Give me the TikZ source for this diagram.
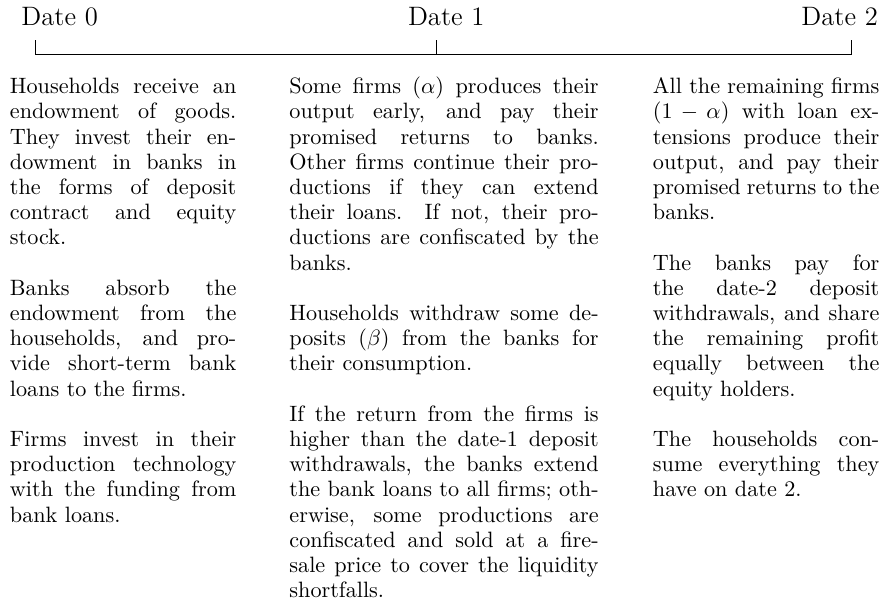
\documentclass[tikz,border=0pt]{standalone}
\begin{document}
\begin{tikzpicture}[x=0.45045pt,y=-0.45045pt,
  datelabel/.style={anchor=base west,inner sep=0pt,font=\large},
  colbox/.style={anchor=north west,inner sep=0pt,align=justify,
    font=\fontsize{10}{11.35}\selectfont},
  timeline/.style={line width=0.4pt,black}]
\useasboundingbox (0,0) rectangle (882,606);
% date labels
\node[datelabel] (d0) at (21,25) {Date 0};
\node[datelabel] (d1) at (407.6,25) {Date 1};
\node[datelabel] (d2) at (801,25) {Date 2};
% timeline
\coordinate (t0) at (35.7,54);
\coordinate (t1) at (436.7,54);
\coordinate (t2) at (851.7,54);
\coordinate (t0u) at (35.7,40);
\coordinate (t1u) at (436.7,40);
\coordinate (t2u) at (851.7,40);
\draw[timeline] (t0u) -- (t0) -- (t2) -- (t2u);
\draw[timeline] (t1u) -- (t1);
% columns
\newcommand{\pgap}{\par\vspace{\baselineskip}}
\node[colbox,text width=102pt] (c0) at (9.5,75.66) {\strut
Households receive an\linebreak
endowment of goods.\linebreak
They invest their en-\linebreak
dowment in banks in\linebreak
the forms of deposit\linebreak
contract and equity\linebreak
stock.\pgap
Banks absorb the\linebreak
endowment from the\linebreak
households, and pro-\linebreak
vide short-term bank\linebreak
loans to the firms.\pgap
Firms invest in their\linebreak
production technology\linebreak
with the funding from\linebreak
bank loans.};
\node[colbox,text width=139.3pt] (c1) at (289,75.66) {\strut
Some firms ($\alpha$) produces their\linebreak
output early, and pay their\linebreak
promised returns to banks.\linebreak
Other firms continue their pro-\linebreak
ductions if they can extend\linebreak
their loans. If not, their pro-\linebreak
ductions are confiscated by the\linebreak
banks.\pgap
Households withdraw some de-\linebreak
posits ($\beta$) from the banks for\linebreak
their consumption.\pgap
If the return from the firms is\linebreak
higher than the date-1 deposit\linebreak
withdrawals, the banks extend\linebreak
the bank loans to all firms; oth-\linebreak
erwise, some productions are\linebreak
confiscated and sold at a fire-\linebreak
sale price to cover the liquidity\linebreak
shortfalls.};
\node[colbox,text width=102pt] (c2) at (652.5,75.66) {\strut
All the remaining firms\linebreak
$(1-\alpha)$ with loan ex-\linebreak
tensions produce their\linebreak
output, and pay their\linebreak
promised returns to the\linebreak
banks.\pgap
The banks pay for\linebreak
the date-2 deposit\linebreak
withdrawals, and share\linebreak
the remaining profit\linebreak
equally between the\linebreak
equity holders.\pgap
The households con-\linebreak
sume everything they\linebreak
have on date 2.};
\end{tikzpicture}
\end{document}
